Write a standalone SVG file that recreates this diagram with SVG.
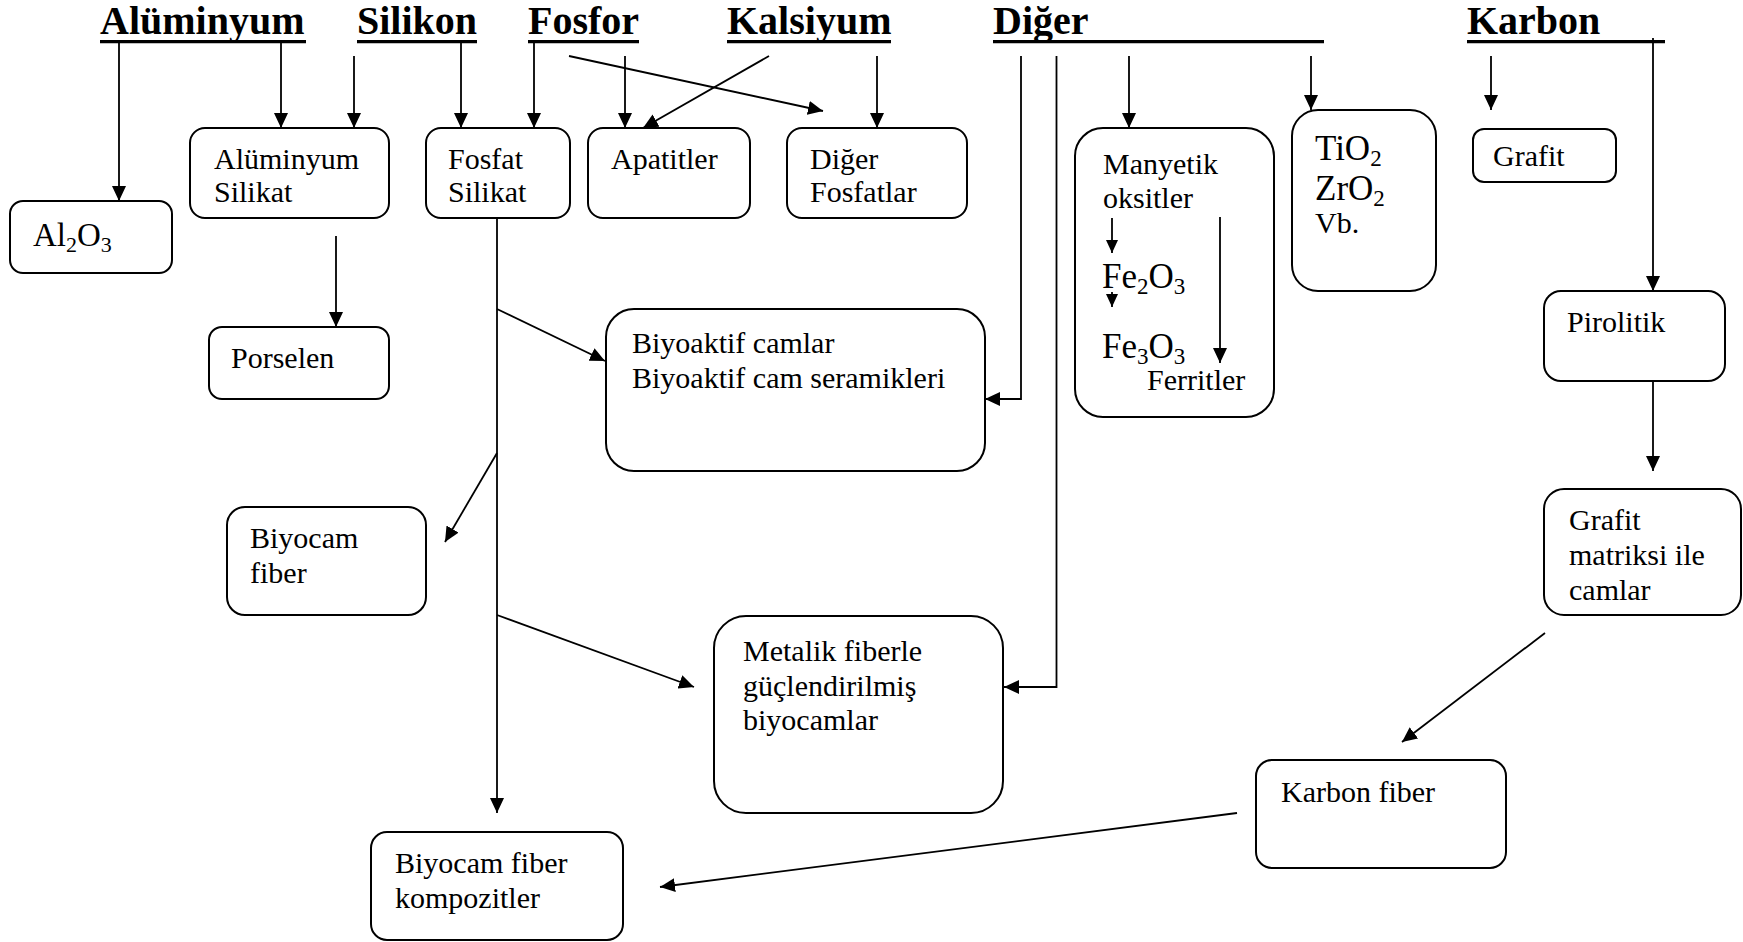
<svg xmlns="http://www.w3.org/2000/svg" width="1743" height="942" viewBox="0 0 1743 942">
  <defs>
    <marker id="ah" markerWidth="16" markerHeight="14" refX="15" refY="7" orient="auto" markerUnits="userSpaceOnUse">
      <path d="M0,0 L15,7 L0,14 z" fill="#000"/>
    </marker>
    <marker id="ahs" markerWidth="14" markerHeight="12" refX="13" refY="6" orient="auto" markerUnits="userSpaceOnUse">
      <path d="M0,0 L13,6 L0,12 z" fill="#000"/>
    </marker>
  </defs>
  <style>
    text { font-family: "Liberation Serif", "Times New Roman", serif; fill: #000; }
    .title { font-size: 40px; font-weight: bold; }
    .uline { stroke: #000; stroke-width: 3.2; fill: none; }
    .box { fill: #fff; stroke: #000; stroke-width: 2; }
    .t { font-size: 30px; }
    .big { font-size: 35px; }
    .sub { font-size: 23px; }
    .conn path, .conn line { stroke: #000; stroke-width: 1.8; fill: none; }
    .arr { marker-end: url(#ah); }
    .arrs { marker-end: url(#ahs); }
  </style>
  <rect width="1743" height="942" fill="#fff"/>

  <!-- Element headings -->
  <g id="headings">
    <text class="title" x="100" y="34">Alüminyum</text>
    <line class="uline" x1="100" y1="41.7" x2="306" y2="41.7"/>
    <text class="title" x="357" y="34">Silikon</text>
    <line class="uline" x1="357" y1="41.7" x2="477" y2="41.7"/>
    <text class="title" x="528" y="34">Fosfor</text>
    <line class="uline" x1="528" y1="41.7" x2="639" y2="41.7"/>
    <text class="title" x="727" y="34">Kalsiyum</text>
    <line class="uline" x1="727" y1="41.7" x2="891" y2="41.7"/>
    <text class="title" x="993" y="34">Diğer</text>
    <line class="uline" x1="993" y1="41.7" x2="1324" y2="41.7"/>
    <text class="title" x="1467" y="34">Karbon</text>
    <line class="uline" x1="1467" y1="41.7" x2="1665" y2="41.7"/>
  </g>

  <!-- Connectors -->
  <g id="connectors" class="conn">
    <line class="arr" x1="119" y1="41" x2="119" y2="201"/>
    <line class="arr" x1="281" y1="41" x2="281" y2="128"/>
    <line class="arr" x1="354" y1="56" x2="354" y2="128"/>
    <line class="arr" x1="461" y1="41" x2="461" y2="128"/>
    <line class="arr" x1="534" y1="41" x2="534" y2="128"/>
    <line class="arr" x1="569" y1="56" x2="823" y2="111"/>
    <line class="arr" x1="625" y1="56" x2="625" y2="128"/>
    <line class="arr" x1="769" y1="56" x2="643" y2="128"/>
    <line class="arr" x1="877" y1="56" x2="877" y2="128"/>
    <path class="arr" d="M1021,56 V399 H985"/>
    <path class="arr" d="M1056.5,56 V687 H1004"/>
    <line class="arr" x1="1129" y1="56" x2="1129" y2="128"/>
    <line class="arr" x1="1311" y1="56" x2="1311" y2="110"/>
    <line class="arr" x1="1491" y1="56" x2="1491" y2="110"/>
    <line class="arr" x1="1653" y1="38" x2="1653" y2="291"/>
    <line class="arr" x1="1653" y1="381" x2="1653" y2="471"/>
    <line class="arr" x1="1545" y1="633" x2="1402" y2="742"/>
    <line class="arr" x1="1237" y1="813" x2="660" y2="887"/>
    <line class="arr" x1="336" y1="236" x2="336" y2="327"/>
    <line class="arr" x1="497" y1="218" x2="497" y2="813"/>
    <line class="arr" x1="497" y1="309" x2="605" y2="361"/>
    <line class="arr" x1="497" y1="453" x2="445" y2="542"/>
    <line class="arr" x1="497" y1="615" x2="694" y2="687"/>
  </g>

  <g id="al2o3">
    <rect class="box" x="10" y="201" width="162" height="72" rx="13"/>
    <text x="33" y="246" style="font-size:33px">Al<tspan style="font-size:22px" dy="6">2</tspan><tspan dy="-6">O</tspan><tspan style="font-size:22px" dy="6">3</tspan></text>
  </g>

  <g id="aluminyum-silikat">
    <rect class="box" x="190" y="128" width="199" height="90" rx="15"/>
    <text class="t" x="214" y="169">Alüminyum</text>
    <text class="t" x="214" y="202">Silikat</text>
  </g>

  <g id="fosfat-silikat">
    <rect class="box" x="426" y="128" width="144" height="90" rx="15"/>
    <text class="t" x="448" y="169">Fosfat</text>
    <text class="t" x="448" y="202">Silikat</text>
  </g>

  <g id="apatitler">
    <rect class="box" x="588" y="128" width="162" height="90" rx="15"/>
    <text class="t" x="611" y="169">Apatitler</text>
  </g>

  <g id="diger-fosfatlar">
    <rect class="box" x="787" y="128" width="180" height="90" rx="15"/>
    <text class="t" x="810" y="169">Diğer</text>
    <text class="t" x="810" y="202">Fosfatlar</text>
  </g>

  <g id="manyetik-oksitler">
    <rect class="box" x="1075" y="128" width="199" height="289" rx="28"/>
    <text class="t" x="1103" y="174">Manyetik</text>
    <text class="t" x="1103" y="208">oksitler</text>
    <g class="conn">
      <line class="arrs" x1="1112" y1="218" x2="1112" y2="253"/>
      <line class="arrs" x1="1112" y1="292" x2="1112" y2="307"/>
      <line class="arr" x1="1220" y1="217" x2="1220" y2="363"/>
    </g>
    <text class="big" x="1102" y="288">Fe<tspan class="sub" dy="6">2</tspan><tspan dy="-6">O</tspan><tspan class="sub" dy="6">3</tspan></text>
    <text class="big" x="1102" y="358">Fe<tspan class="sub" dy="6">3</tspan><tspan dy="-6">O</tspan><tspan class="sub" dy="6">3</tspan></text>
    <text class="t" x="1147" y="390">Ferritler</text>
  </g>

  <g id="oksitler">
    <rect class="box" x="1292" y="110" width="144" height="181" rx="26"/>
    <text class="big" x="1315" y="160">TiO<tspan class="sub" dy="6">2</tspan></text>
    <text class="big" x="1315" y="200">ZrO<tspan class="sub" dy="6">2</tspan></text>
    <text class="t" x="1315" y="233">Vb.</text>
  </g>

  <g id="grafit">
    <rect class="box" x="1473" y="129" width="143" height="53" rx="11"/>
    <text class="t" x="1493" y="166">Grafit</text>
  </g>

  <g id="porselen">
    <rect class="box" x="209" y="327" width="180" height="72" rx="13"/>
    <text class="t" x="231" y="368">Porselen</text>
  </g>

  <g id="biyoaktif">
    <rect class="box" x="606" y="309" width="379" height="162" rx="28"/>
    <text class="t" x="632" y="353">Biyoaktif camlar</text>
    <text class="t" x="632" y="388">Biyoaktif cam seramikleri</text>
  </g>

  <g id="biyocam-fiber">
    <rect class="box" x="227" y="507" width="199" height="108" rx="18"/>
    <text class="t" x="250" y="548">Biyocam</text>
    <text class="t" x="250" y="583">fiber</text>
  </g>

  <g id="metalik-fiber">
    <rect class="box" x="714" y="616" width="289" height="197" rx="32"/>
    <text class="t" x="743" y="661">Metalik fiberle</text>
    <text class="t" x="743" y="696">güçlendirilmiş</text>
    <text class="t" x="743" y="730">biyocamlar</text>
  </g>

  <g id="biyocam-kompozit">
    <rect class="box" x="371" y="832" width="252" height="108" rx="16"/>
    <text class="t" x="395" y="873">Biyocam fiber</text>
    <text class="t" x="395" y="908">kompozitler</text>
  </g>

  <g id="pirolitik">
    <rect class="box" x="1544" y="291" width="181" height="90" rx="17"/>
    <text class="t" x="1567" y="332">Pirolitik</text>
  </g>

  <g id="grafit-matriksi">
    <rect class="box" x="1544" y="489" width="197" height="126" rx="20"/>
    <text class="t" x="1569" y="530">Grafit</text>
    <text class="t" x="1569" y="565">matriksi ile</text>
    <text class="t" x="1569" y="600">camlar</text>
  </g>

  <g id="karbon-fiber">
    <rect class="box" x="1256" y="760" width="250" height="108" rx="16"/>
    <text class="t" x="1281" y="802">Karbon fiber</text>
  </g>
</svg>
